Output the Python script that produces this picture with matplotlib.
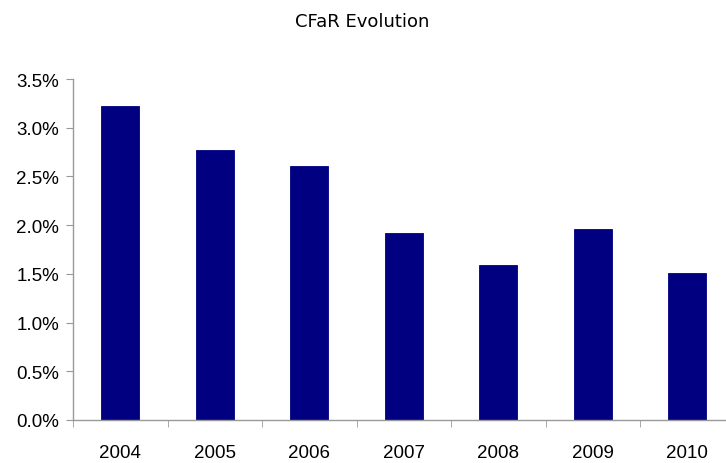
import matplotlib.pyplot as plt
import numpy as np
from matplotlib.ticker import FuncFormatter

years = ['2004', '2005', '2006', '2007', '2008', '2009', '2010']
cfar = [3.22, 2.77, 2.61, 1.92, 1.59, 1.96, 1.51]

fig = plt.figure(figsize=(7.26, 4.64), dpi=100)
# axis runs off the right edge, as in the original
ax = fig.add_axes([73 / 726, 43 / 464, 661.5 / 726, 341 / 464])

x = np.arange(len(years))
ax.bar(x, cfar, width=0.4, color='#000080', edgecolor='#000080', linewidth=0.6)

ax.set_xlim(-0.5, len(years) - 0.5)
ax.set_ylim(0, 3.5)
ax.set_yticks(np.arange(0, 3.51, 0.5))
ax.yaxis.set_major_formatter(FuncFormatter(lambda v, p: '{:.1f}%'.format(v)))
ax.set_xticks(x)
ax.set_xticklabels(years)
ax.set_xticks(np.arange(-0.5, len(years), 1), minor=True)

for s in ['top', 'right']:
    ax.spines[s].set_visible(False)
for s in ['left', 'bottom']:
    ax.spines[s].set_color('#999999')
    ax.spines[s].set_linewidth(1)

ax.tick_params(axis='y', length=5, color='#999999', labelsize=13.5, pad=5)
ax.tick_params(axis='x', which='major', length=0, labelsize=13.5, pad=17)
ax.tick_params(axis='x', which='minor', length=5, color='#999999')
for lab in ax.get_xticklabels() + ax.get_yticklabels():
    lab.set_family('Liberation Sans')

fig.text(362 / 726, 1 - 22 / 464, 'CFaR Evolution', ha='center', va='center',
         fontsize=13, family='DejaVu Sans', weight='medium')

fig.savefig('out.png', dpi=100)
